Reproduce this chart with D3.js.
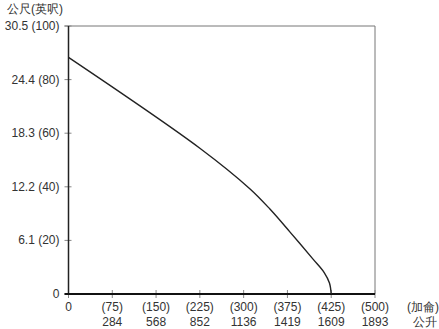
<!DOCTYPE html>
<html>
<head>
<meta charset="utf-8">
<script src="https://cdn.jsdelivr.net/npm/d3@7"></script>
<style>
  body { margin: 0; background: #fff; }
  text { font-family: "Liberation Sans", Arial, sans-serif; font-size: 12px; fill: #333; }
</style>
</head>
<body>
<svg id="chart" width="439" height="329"></svg>
<script>
// Flow (gallons) tick positions are evenly spaced on the chart
var gallonTicks = [0, 75, 150, 225, 300, 375, 425, 500];
var literLabels = ['', '284', '568', '852', '1136', '1419', '1609', '1893'];
var feetTicks = [0, 20, 40, 60, 80, 100];
var meterLabels = ['0', '6.1', '12.2', '18.3', '24.4', '30.5'];

// Pump curve: head (feet) vs flow (gallons)
var flowGal = [0, 225, 311, 345, 378, 404, 417, 423, 425];
var headFt = [88.3, 54.4, 39.2, 31.7, 23.1, 13.1, 8.0, 4.1, 0];

var svg = d3.select('#chart');
// plot area edges (note: "top" is reserved on window)
var pLeft = 68.5, pRight = 375, pTop = 26, pBottom = 294;

// piecewise linear x: every tick gets the same spacing
var x = d3.scaleLinear()
    .domain(gallonTicks)
    .range(gallonTicks.map(function (d, i) {
        return pLeft + i * (pRight - pLeft) / (gallonTicks.length - 1);
    }));

var y = d3.scaleLinear()
    .domain([0, 100])
    .range([pBottom, pTop]);

// frame: top and right edges
svg.append('path')
    .attr('d', 'M' + (pLeft - 4) + ',' + pTop + 'H' + pRight + 'V' + pBottom)
    .attr('fill', 'none')
    .attr('stroke', '#777')
    .attr('stroke-width', 1);

// y ticks
svg.append('g').selectAll('line')
    .data(feetTicks)
    .enter().append('line')
    .attr('x1', pLeft - 4).attr('x2', pLeft + 3)
    .attr('y1', function (d) { return y(d); })
    .attr('y2', function (d) { return y(d); })
    .attr('stroke', '#888');

svg.append('g').selectAll('text')
    .data(feetTicks)
    .enter().append('text')
    .attr('x', pLeft - 9)
    .attr('y', function (d) { return y(d) + 4; })
    .attr('text-anchor', 'end')
    .text(function (d, i) { return d === 0 ? '0' : meterLabels[i] + ' (' + d + ')'; });

// x ticks
svg.append('g').selectAll('line')
    .data(gallonTicks)
    .enter().append('line')
    .attr('x1', function (d) { return x(d); })
    .attr('x2', function (d) { return x(d); })
    .attr('y1', pBottom - 4).attr('y2', pBottom + 4)
    .attr('stroke', '#888');

var xl = svg.append('g').selectAll('g')
    .data(gallonTicks)
    .enter().append('g')
    .attr('transform', function (d) { return 'translate(' + x(d) + ',0)'; });

xl.append('text')
    .attr('y', 311)
    .attr('text-anchor', 'middle')
    .text(function (d) { return d === 0 ? '0' : '(' + d + ')'; });

xl.append('text')
    .attr('y', 326)
    .attr('text-anchor', 'middle')
    .text(function (d, i) { return literLabels[i]; });

// axes lines
svg.append('line')
    .attr('x1', pLeft).attr('x2', pLeft)
    .attr('y1', pTop).attr('y2', pBottom)
    .attr('stroke', '#222').attr('stroke-width', 1.5);

svg.append('line')
    .attr('x1', pLeft - 4).attr('x2', pRight)
    .attr('y1', pBottom).attr('y2', pBottom)
    .attr('stroke', '#111').attr('stroke-width', 1.8);

// curve
var line = d3.line()
    .x(function (d, i) { return x(flowGal[i]); })
    .y(function (d, i) { return y(headFt[i]); })
    .curve(d3.curveCatmullRom.alpha(0.5));

svg.append('path')
    .datum(headFt)
    .attr('d', line)
    .attr('fill', 'none')
    .attr('stroke', '#222')
    .attr('stroke-width', 1.4);

// unit labels
svg.append('text').attr('x', 7).attr('y', 13).text('公尺(英呎)');
svg.append('text').attr('x', 407).attr('y', 311).text('(加侖)');
svg.append('text').attr('x', 413).attr('y', 326).text('公升');
</script>
</body>
</html>
